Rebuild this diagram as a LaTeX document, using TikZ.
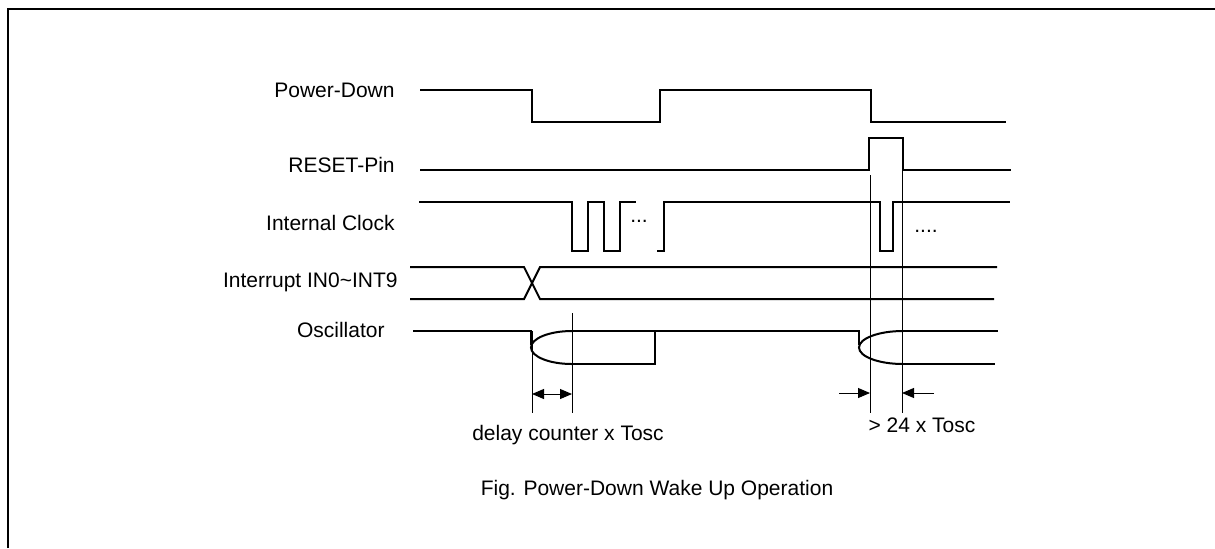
\documentclass[tikz,border=0pt]{standalone}
\usepackage{fontspec}
\setmainfont{Liberation Sans}
\usepackage{tikz}
\usetikzlibrary{arrows.meta,positioning,calc}

\tikzset{
	sig/.style={line width=1pt, line join=miter},
	guide/.style={line width=0.5pt},
	lbl/.style={font=\fontsize{10.5}{12}\selectfont, inner sep=0pt},
	tip/.tip={Triangle[length=6pt,width=5pt]},
	dim/.style={line width=0.5pt, -tip},
	ddim/.style={line width=0.5pt, tip-tip}
}

\begin{document}
\begin{tikzpicture}[x=0.5pt,y=-0.5pt]
	\useasboundingbox (0,0) rectangle (1215,548);
	\draw [line width=1.2pt] (8,548) -- (8,9) -- (1215,9);
	% signal names
	\node[lbl, anchor=east] (pd) at (395,90) {Power-Down};
	\node[lbl, anchor=east] (rst) at (395,165) {RESET-Pin};
	\node[lbl, anchor=east] (clk) at (395,223) {Internal Clock};
	\node[lbl, anchor=east] (int) at (398,282) {Interrupt IN0\textasciitilde INT9};
	\node[lbl, anchor=east] (osc) at (385,330) {Oscillator};
	% waveforms
	\draw [sig] (420,90) -- (532,90) -- (532,122) -- (660,122) -- (660,90) -- (871,90) -- (871,122) -- (1006,122);
	\draw [sig] (420,170) -- (869,170) -- (869,138) -- (903,138) -- (903,170) -- (1011,170);
	\draw [sig] (419,202) -- (572,202) -- (572,251) -- (588,251) -- (588,202) -- (604,202) -- (604,251) -- (620,251) -- (620,202) -- (636,202);
	\draw [sig] (657,251) -- (664,251) -- (664,202) -- (880,202) -- (880,251) -- (893,251) -- (893,202) -- (1010,202);
	\node[lbl] (dots1) at (639,221) {...};
	\node[lbl] (dots2) at (926,231) {....};
	\draw [sig] (410,267) -- (524,267) -- (540,299) -- (994,299);
	\draw [sig] (410,299) -- (524,299) -- (540,267) -- (997,267);
	\draw [sig] (413,331) -- (531,331) -- (531,345);
	\draw [sig] (572,331) arc[start angle=270, end angle=90, x radius=41, y radius=16.5];
	\draw [sig] (572,331) -- (859,331) -- (859,345);
	\draw [sig] (572,364) -- (655,364) -- (655,331);
	\draw [sig] (903,331) arc[start angle=270, end angle=90, x radius=44, y radius=16.5];
	\draw [sig] (903,331) -- (998,331);
	\draw [sig] (903,364) -- (995,364);
	% timing marks
	\coordinate (a1) at (532,394);
	\coordinate (a2) at (572,394);
	\coordinate (b1) at (870,393);
	\coordinate (b2) at (902,393);
	\draw [guide] (532,331) -- (532,413);
	\draw [guide] (572,313) -- (572,413);
	\draw [guide] (870,175) -- (870,413);
	\draw [guide] (902,170) -- (902,413);
	\draw [ddim] (a1) -- (a2);
	\draw [dim] ($(b1)+(-31,0)$) -- (b1);
	\draw [dim] ($(b2)+(32,0)$) -- (b2);
	\node[lbl] (dly) at (568,435) {delay counter x Tosc};
	\node[lbl] (gt) at (922,425) {> 24 x Tosc};
	\node[lbl] (cap) at (657,490) {Fig. Power-Down Wake Up Operation};
\end{tikzpicture}
\end{document}
